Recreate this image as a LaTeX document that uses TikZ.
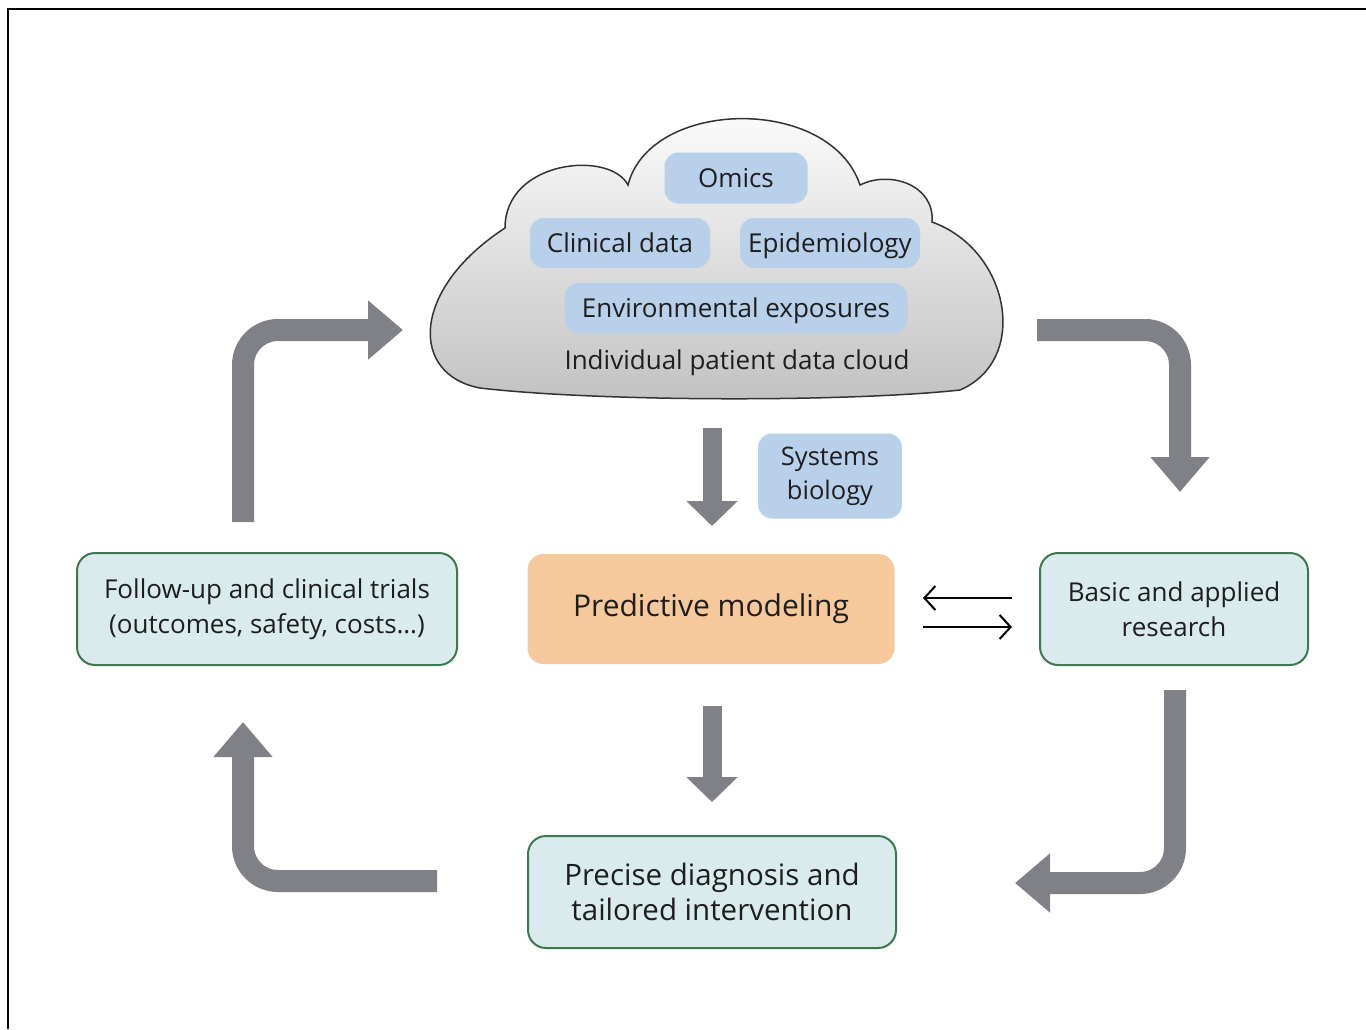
\documentclass[tikz,border=0pt]{standalone}
\usepackage{fontspec}
\setmainfont{Open Sans}
\usetikzlibrary{arrows.meta}
\definecolor{tagblue}{RGB}{184,208,234}
\definecolor{modelorange}{RGB}{245,201,156}
\definecolor{stageteal}{RGB}{218,235,238}
\definecolor{stagegreen}{RGB}{62,120,78}
\definecolor{flowgray}{RGB}{128,129,134}
\definecolor{inkgray}{RGB}{30,30,30}
\tikzset{
  datatag/.style={fill=tagblue, rounded corners=14pt, inner sep=0pt, text=inkgray,
    text height=22pt, text depth=3pt, font=\fontsize{26}{34}\selectfont},
  stagebox/.style={fill=stageteal, draw=stagegreen, line width=2pt, rounded corners=18pt,
    align=center, inner sep=0pt, minimum height=112pt, text=inkgray,
    font=\fontsize{26}{35}\selectfont},
  bentflow/.style={flowgray, line width=22pt, rounded corners=35pt,
    -{Triangle[width=57pt,length=35pt]}},
  downflow/.style={flowgray, line width=19pt, -{Triangle[width=50pt,length=25pt]}},
  exchange/.style={black, line width=2pt, -{Straight Barb[length=11pt,width=24pt]}}
}
\begin{document}
\begin{tikzpicture}[x=1pt,y=-1pt]
  \useasboundingbox (0,0) rectangle (1366,1029);
  % frame
  \draw[line width=2pt] (8,1029) -- (8,9) -- (1366,9);
  % Data cloud
  \shade[top color=white, bottom color=black!24, draw=black!80, line width=1.5pt]
    (480,388) .. controls (410,375) and (410,290) .. (505,228)
    .. controls (505,160) and (610,150) .. (628,185)
    .. controls (650,98) and (830,95) .. (860,185)
    .. controls (890,170) and (935,185) .. (932,222)
    .. controls (1010,250) and (1030,360) .. (960,390)
    .. controls (850,402) and (600,402) .. (480,388) -- cycle;
  \node[datatag, minimum width=143pt, minimum height=51pt] (omics) at (736,178) {Omics};
  \node[datatag, minimum width=180pt, minimum height=50pt] (clinical) at (620,243) {Clinical data};
  \node[datatag, minimum width=180pt, minimum height=50pt] (epidem) at (830,243) {Epidemiology};
  \node[datatag, minimum width=343pt, minimum height=50pt] (environ) at (736,308) {Environmental exposures};
  \node[text=inkgray, text height=22pt, text depth=3pt, font=\fontsize{26}{28}\selectfont] (cloudlabel) at (737,360) {Individual patient data cloud};
  % Systems biology
  \node[datatag, align=center, minimum width=144pt, minimum height=85pt, text height=, text depth=,
    font=\fontsize{25.5}{34}\selectfont] (sysbio) at (830,476) {Systems\\biology};
  % Stages
  \node[fill=modelorange, rounded corners=16pt, minimum width=367pt, minimum height=110pt,
    text=inkgray, font=\fontsize{30}{34}\selectfont] (predict) at (711,609) {Predictive modeling};
  \node[stagebox, minimum width=380pt] (followup) at (267,609) {Follow-up and clinical trials\\(outcomes, safety, costs…)};
  \node[stagebox, minimum width=268pt] (research) at (1174,609) {Basic and applied\\research};
  \node[stagebox, minimum width=368pt, font=\fontsize{29.5}{35}\selectfont] (precise) at (712,892) {Precise diagnosis and\\tailored intervention};
  % flow ends
  \coordinate (cloudout) at (712,428);
  \coordinate (modelin) at (712,526);
  \coordinate (modelout) at (712,706);
  \coordinate (precisetop) at (712,802);
  \coordinate (followout) at (243,522);
  \coordinate (cloudin) at (403,330);
  \coordinate (cloudright) at (1037,330);
  \coordinate (researchin) at (1180,492);
  \coordinate (researchout) at (1175,690);
  \coordinate (preciseright) at (1015,883);
  \coordinate (preciseleft) at (437,881);
  \coordinate (followin) at (243,722);
  \coordinate (resleft) at (1012,598);
  \coordinate (modright) at (923,598);
  \coordinate (modright2) at (923,627);
  \coordinate (resleft2) at (1012,627);
  % fat arrows
  \draw[downflow] (cloudout) -- (modelin);
  \draw[downflow] (modelout) -- (precisetop);
  \draw[bentflow] (followout) |- (cloudin);
  \draw[bentflow] (cloudright) -| (researchin);
  \draw[bentflow] (researchout) |- (preciseright);
  \draw[bentflow] (preciseleft) -| (followin);
  % exchange arrows
  \draw[exchange] (resleft) -- (modright);
  \draw[exchange] (modright2) -- (resleft2);
\end{tikzpicture}
\end{document}
